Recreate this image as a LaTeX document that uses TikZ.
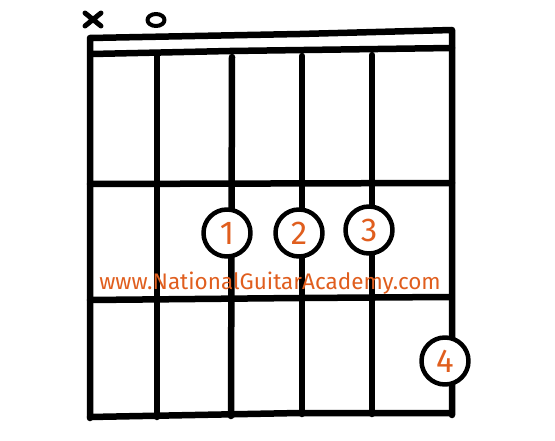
\documentclass[tikz,border=0pt]{standalone}
\usepackage{fontspec}
\setmainfont{Fira Sans}
\definecolor{ngaorange}{RGB}{224,94,30}
\tikzset{
  finger/.style={circle, draw, fill=white, line width=4.5pt, minimum size=47pt, inner sep=0pt,
    text=ngaorange, font=\fontsize{33}{33}\selectfont},
  sitename/.style={text=ngaorange, font=\fontsize{22.5}{22.5}\selectfont, inner sep=0pt}
}
\begin{document}
\begin{tikzpicture}[x=1pt,y=-1pt,line width=6.5pt,line cap=round,line join=round]
            \useasboundingbox (0,0) rectangle (555,441);
            % frame and nut
            \draw (90,418) -- (90,38) -- (300,34) -- (452,30) -- (452,415);
            \draw (92,54) -- (230,51) -- (452,48);
            \draw (90,417) -- (300,413) -- (450,413);
            % frets
            \draw (90,184) -- (452,183);
            \draw (90,300) -- (300,298) -- (450,297);
            % strings
            \draw (157,56) -- (157,417);
            \draw (232,57) -- (231,416);
            \draw (302,56) -- (302,414);
            \draw (372,55) -- (372,414);
            % muted and open strings
            \draw[line width=5pt] (85,13) -- (101,26) (85,26) -- (101,13);
            \draw[line width=4pt] (156,20) ellipse (8.5 and 6);
            % fingers
            \node[finger] (f1) at (227,233) {1};
            \node[finger] (f2) at (299,233) {2};
            \node[finger] (f3) at (369,230) {3};
            \node[finger] (f4) at (445,361) {4};
            \node[sitename] (site) at (270,283) {www.NationalGuitarAcademy.com};
        \end{tikzpicture}
\end{document}
